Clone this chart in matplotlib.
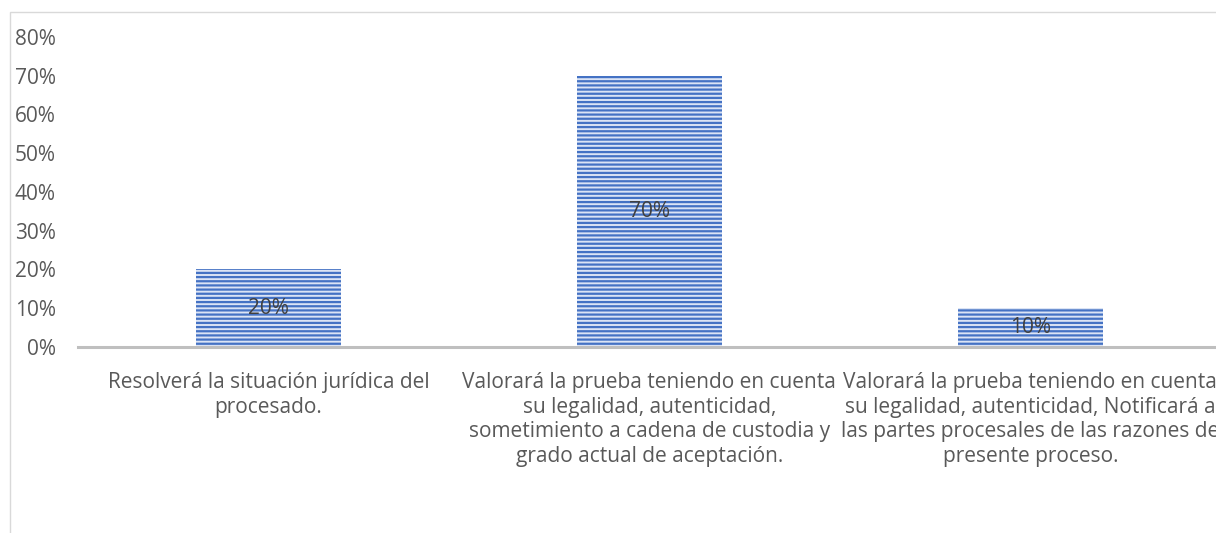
import matplotlib.pyplot as plt
import matplotlib.patches as mpatches
import numpy as np

plt.rcParams['font.family'] = ['Open Sans', 'DejaVu Sans']
plt.rcParams['hatch.linewidth'] = 1.6

categorias = [
    "Resolverá la situación jurídica del\nprocesado.",
    "Valorará la prueba teniendo en cuenta\nsu legalidad, autenticidad,\nsometimiento a cadena de custodia y\ngrado actual de aceptación.",
    "Valorará la prueba teniendo en cuenta\nsu legalidad, autenticidad, Notificará a\nlas partes procesales de las razones de\npresente proceso.",
]
valores = [0.20, 0.70, 0.10]
yticks = [0.0, 0.1, 0.2, 0.3, 0.4, 0.5, 0.6, 0.7, 0.8]

AZUL = "#4472C4"
GRIS = "#595959"
FS = 15

fig = plt.figure(figsize=(12.16, 5.33), dpi=100)
ax = fig.add_axes([0.064, 0.349, 0.94, 0.5816])

x = np.arange(len(categorias))
barras = ax.bar(x, valores, width=0.38, color="#dbe4f5", edgecolor=AZUL,
                linewidth=0, hatch="----")

for b, v in zip(barras, valores):
    ax.text(b.get_x() + b.get_width() / 2, v / 2, f"{v:.0%}",
            ha="center", va="center", fontsize=FS, color="#404040")

ax.set_xlim(-0.5, 2.5)
ax.set_ylim(0, 0.8)
ax.set_yticks(yticks)
ax.set_yticklabels([f"{t:.0%}" for t in yticks], fontsize=FS, color=GRIS)
ax.tick_params(axis="y", length=0, pad=16)
ax.set_xticks(x)
ax.set_xticklabels(categorias, fontsize=FS, color=GRIS, linespacing=1.22, va="top")
ax.tick_params(axis="x", length=0, pad=18)

for s in ["top", "right", "left"]:
    ax.spines[s].set_visible(False)
ax.spines["bottom"].set_color("#BFBFBF")
ax.spines["bottom"].set_linewidth(2.2)

# marco del gráfico
marco = mpatches.Rectangle((10 / 1216, -0.1), 1.2, (533 - 12) / 533 + 0.1,
                           transform=fig.transFigure, fill=False,
                           edgecolor="#D9D9D9", linewidth=1)
fig.add_artist(marco)

fig.savefig("out.png", dpi=100)
